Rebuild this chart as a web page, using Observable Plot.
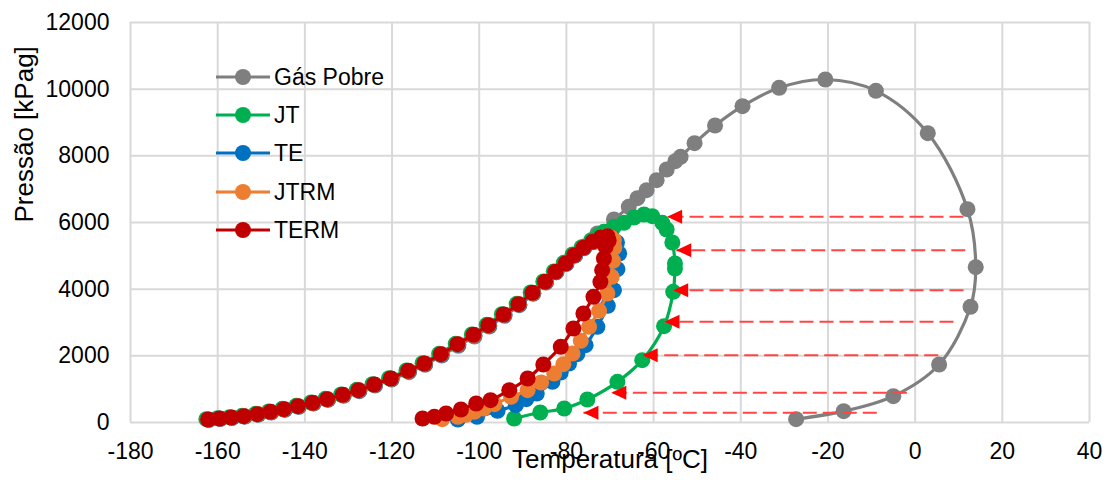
<!DOCTYPE html>
<html><head><meta charset="utf-8">
<script src="https://cdn.jsdelivr.net/npm/d3@7"></script>
<script src="https://cdn.jsdelivr.net/npm/@observablehq/plot@0.6"></script>
<style>
body{margin:0;background:#fff;}
#wrap{position:relative;width:1110px;height:480px;font-family:"Liberation Sans",Arial,sans-serif;}
.leg{position:absolute;display:flex;align-items:center;height:24px;font-size:23px;line-height:24px;color:#000;white-space:nowrap;}
.leg svg{display:block;margin-right:4px;}
</style></head><body><div id="wrap"></div>
<script>
// ---- data ----
const seriesNames = ["Gás Pobre", "JT", "TE", "JTRM", "TERM"];
const seriesColors = ["#7f7f7f", "#00b050", "#0070c0", "#ed7d31", "#c00000"];
const xTicks = [-180, -160, -140, -120, -100, -80, -60, -40, -20, 0, 20, 40];
const yTicks = [0, 2000, 4000, 6000, 8000, 10000, 12000];

// [Temperatura ºC, Pressão kPag]
const gasPobre = [
  [-27.3,100],[-16.4,340],[-5.0,790],[5.5,1740],[12.7,3470],[13.9,4660],[12.0,6400],
  [2.9,8680],[-9.0,9950],[-20.6,10290],[-31.2,10040],[-39.6,9490],[-45.9,8910],[-50.6,8380],
  [-53.8,7970],[-55.0,7840],[-57.0,7590],[-59.3,7270],[-61.6,6970],[-63.7,6730],[-65.7,6470],
  [-69.1,6090],[-72.9,5670],[-75.8,5280],[-78.0,5020],[-80.0,4770],[-82.3,4510],[-84.7,4200],
  [-87.6,3860],[-90.8,3520],[-94.2,3200],[-97.7,2880],[-101.1,2580],[-104.8,2300],[-108.6,2010],
  [-112.4,1730],[-116.1,1510],[-120.1,1290],[-123.9,1110],[-127.5,940],[-131.1,800],[-134.7,680],
  [-138.0,570],[-141.4,470],[-144.6,380],[-147.7,300],[-150.7,240],[-153.8,180],[-156.7,140],
  [-159.4,110],[-162.0,80]
];
const jt = [
  [-162.6,100],[-160.0,130],[-157.3,160],[-154.4,200],[-151.3,260],[-148.3,330],[-145.2,410],
  [-142.0,500],[-138.6,600],[-135.3,710],[-131.7,840],[-128.1,980],[-124.5,1150],[-120.7,1330],
  [-116.7,1560],[-113.0,1780],[-109.2,2060],[-105.4,2360],[-101.7,2640],[-98.3,2930],[-94.8,3250],
  [-91.4,3560],[-88.2,3900],[-85.3,4230],[-82.9,4530],[-80.6,4790],[-78.6,5040],[-76.5,5260],
  [-74.3,5470],[-72.6,5620],[-71.4,5720],[-69.1,5870],[-66.8,5990],[-64.5,6150],[-62.2,6240],
  [-60.3,6190],[-58.0,5990],[-57.0,5790],[-55.7,5400],[-55.1,4770],[-55.1,4620],[-55.5,3920],
  [-57.6,2890],[-62.6,1870],[-68.3,1220],[-75.2,690],[-80.5,420],[-86.0,300],[-92.0,120]
];
const te = [
  [-162.0,80],[-159.4,110],[-156.7,140],[-153.8,180],[-150.7,240],[-147.7,310],[-144.6,390],
  [-141.4,480],[-138.0,580],[-134.7,690],[-131.1,820],[-127.5,960],[-123.9,1130],[-120.1,1310],
  [-116.1,1540],[-112.4,1760],[-108.6,2040],[-104.8,2340],[-101.1,2620],[-97.7,2910],[-94.2,3230],
  [-90.8,3540],[-87.6,3880],[-84.7,4210],[-82.3,4510],[-80.0,4760],[-78.0,5010],[-75.9,5230],
  [-73.6,5420],[-71.4,5540],[-69.6,5560],[-68.4,5400],[-67.9,5070],[-68.3,4600],[-69.1,3970],
  [-70.5,3500],[-72.9,2870],[-75.6,2320],[-77.5,2050],[-79.4,1770],[-81.3,1500],[-83.2,1220],
  [-86.8,870],[-89.2,700],[-91.6,520],[-95.8,350],[-100.5,170],[-104.9,90]
];
const jtrm = [
  [-162.1,85],[-159.5,115],[-156.8,145],[-153.9,185],[-150.8,245],[-147.8,315],[-144.7,395],
  [-141.5,485],[-138.1,585],[-134.8,695],[-131.2,825],[-127.6,965],[-124.0,1135],[-120.2,1315],
  [-116.2,1545],[-112.5,1765],[-108.7,2045],[-104.9,2345],[-101.2,2625],[-97.8,2915],[-94.3,3235],
  [-90.9,3545],[-87.7,3885],[-84.8,4215],[-82.4,4515],[-80.1,4765],[-78.1,5015],[-76.0,5235],
  [-73.8,5420],[-71.0,5580],[-69.8,5560],[-69.1,5470],[-69.0,5250],[-69.3,4850],[-69.6,4370],
  [-70.6,3870],[-72.5,3350],[-74.8,2870],[-76.7,2450],[-78.6,2070],[-80.7,1750],[-82.8,1470],
  [-85.8,1200],[-88.9,970],[-92.7,770],[-96.5,550],[-99.0,420],[-101.1,320],[-103.0,230],
  [-104.9,170],[-108.5,100]
];
const term = [
  [-162.2,90],[-159.6,120],[-156.9,150],[-154.0,190],[-150.9,250],[-147.9,320],[-144.8,400],
  [-141.6,490],[-138.2,590],[-134.9,700],[-131.3,830],[-127.7,970],[-124.1,1140],[-120.3,1320],
  [-116.3,1550],[-112.6,1770],[-108.8,2050],[-105.0,2350],[-101.3,2630],[-97.9,2920],[-94.4,3240],
  [-91.0,3550],[-87.8,3890],[-84.9,4220],[-82.5,4520],[-80.2,4770],[-78.2,5020],[-76.1,5240],
  [-74.0,5420],[-72.1,5550],[-70.6,5590],[-70.3,5460],[-71.0,5270],[-71.4,4920],[-71.8,4570],
  [-72.2,4220],[-73.8,3770],[-76.1,3270],[-78.4,2820],[-81.3,2270],[-85.3,1740],[-88.9,1320],
  [-93.1,970],[-97.4,670],[-100.7,570],[-104.2,390],[-107.6,270],[-110.3,170],[-113.0,120]
];

// red dashed arrows (pressure level, start T on Gás Pobre, end T on JT)
const arrowP = [6170, 5170, 3970, 3020, 2020, 890, 290];
const arrowFromT = [11.1, 11.5, 11.1, 8.8, 5.3, -1.9, -8.8];
const arrowToT = [-56.9, -54.8, -55.5, -57.5, -62.5, -69.7, -76.1];

// ---- chart ----
const allSeries = [gasPobre, jt, te, jtrm, term];
const arrows = arrowP.map((p, i) => ({p, from: arrowFromT[i], to: arrowToT[i]}));
const leftTriangle = {
  draw(ctx) { ctx.moveTo(0, 0); ctx.lineTo(15, -7); ctx.lineTo(15, 7); ctx.closePath(); }
};

const marks = [
  Plot.ruleX(xTicks, {stroke: "#d9d9d9", strokeWidth: 2}),
  Plot.ruleY(yTicks, {stroke: "#d9d9d9", strokeWidth: 2})
];
allSeries.forEach((s, i) => {
  marks.push(Plot.line(s, {x: d => d[0], y: d => d[1], stroke: seriesColors[i], strokeWidth: 3.2, curve: "catmull-rom"}));
  marks.push(Plot.dot(s, {x: d => d[0], y: d => d[1], r: 8, fill: seriesColors[i], stroke: "none"}));
});
marks.push(Plot.link(arrows, {x1: "from", x2: "to", y1: "p", y2: "p", stroke: "#ff4545", strokeWidth: 2, strokeDasharray: "14,6"}));
marks.push(Plot.dot(arrows, {x: "to", y: "p", symbol: leftTriangle, fill: "#ff0000", stroke: "none"}));
marks.push(Plot.text(["Temperatura [ºC]"], {frameAnchor: "bottom", dy: 45, text: d => d, fontSize: 26, fill: "#000"}));
marks.push(Plot.text(["Pressão [kPag]"], {frameAnchor: "left", dx: -106, rotate: -90, text: d => d, fontSize: 26, fill: "#000"}));

const chart = Plot.plot({
  width: 1110, height: 480,
  marginLeft: 130, marginRight: 21, marginTop: 22, marginBottom: 58,
  style: {fontFamily: "'Liberation Sans', Arial, sans-serif", fontSize: "23px", color: "#000", background: "#fff"},
  x: {domain: [-180, 40], ticks: xTicks, tickFormat: d => String(d), tickSize: 0, tickPadding: 20, label: null},
  y: {domain: [0, 12000], ticks: yTicks, tickFormat: d => String(d), tickSize: 0, tickPadding: 21, label: null},
  marks
});
const wrap = document.getElementById("wrap");
wrap.appendChild(chart);

// legend (inside plot area, top-left)
seriesNames.forEach((name, i) => {
  const item = document.createElement("div");
  item.className = "leg";
  item.style.left = "216px";
  item.style.top = (77 + i * 38.2 - 12) + "px";
  const ns = "http://www.w3.org/2000/svg";
  const svg = document.createElementNS(ns, "svg");
  svg.setAttribute("width", 54); svg.setAttribute("height", 24);
  const ln = document.createElementNS(ns, "line");
  ln.setAttribute("x1", 0); ln.setAttribute("x2", 54); ln.setAttribute("y1", 12); ln.setAttribute("y2", 12);
  ln.setAttribute("stroke", seriesColors[i]); ln.setAttribute("stroke-width", 3.2);
  const c = document.createElementNS(ns, "circle");
  c.setAttribute("cx", 27); c.setAttribute("cy", 12); c.setAttribute("r", 8); c.setAttribute("fill", seriesColors[i]);
  svg.appendChild(ln); svg.appendChild(c);
  item.appendChild(svg);
  item.appendChild(document.createTextNode(name));
  wrap.appendChild(item);
});
</script></body></html>
